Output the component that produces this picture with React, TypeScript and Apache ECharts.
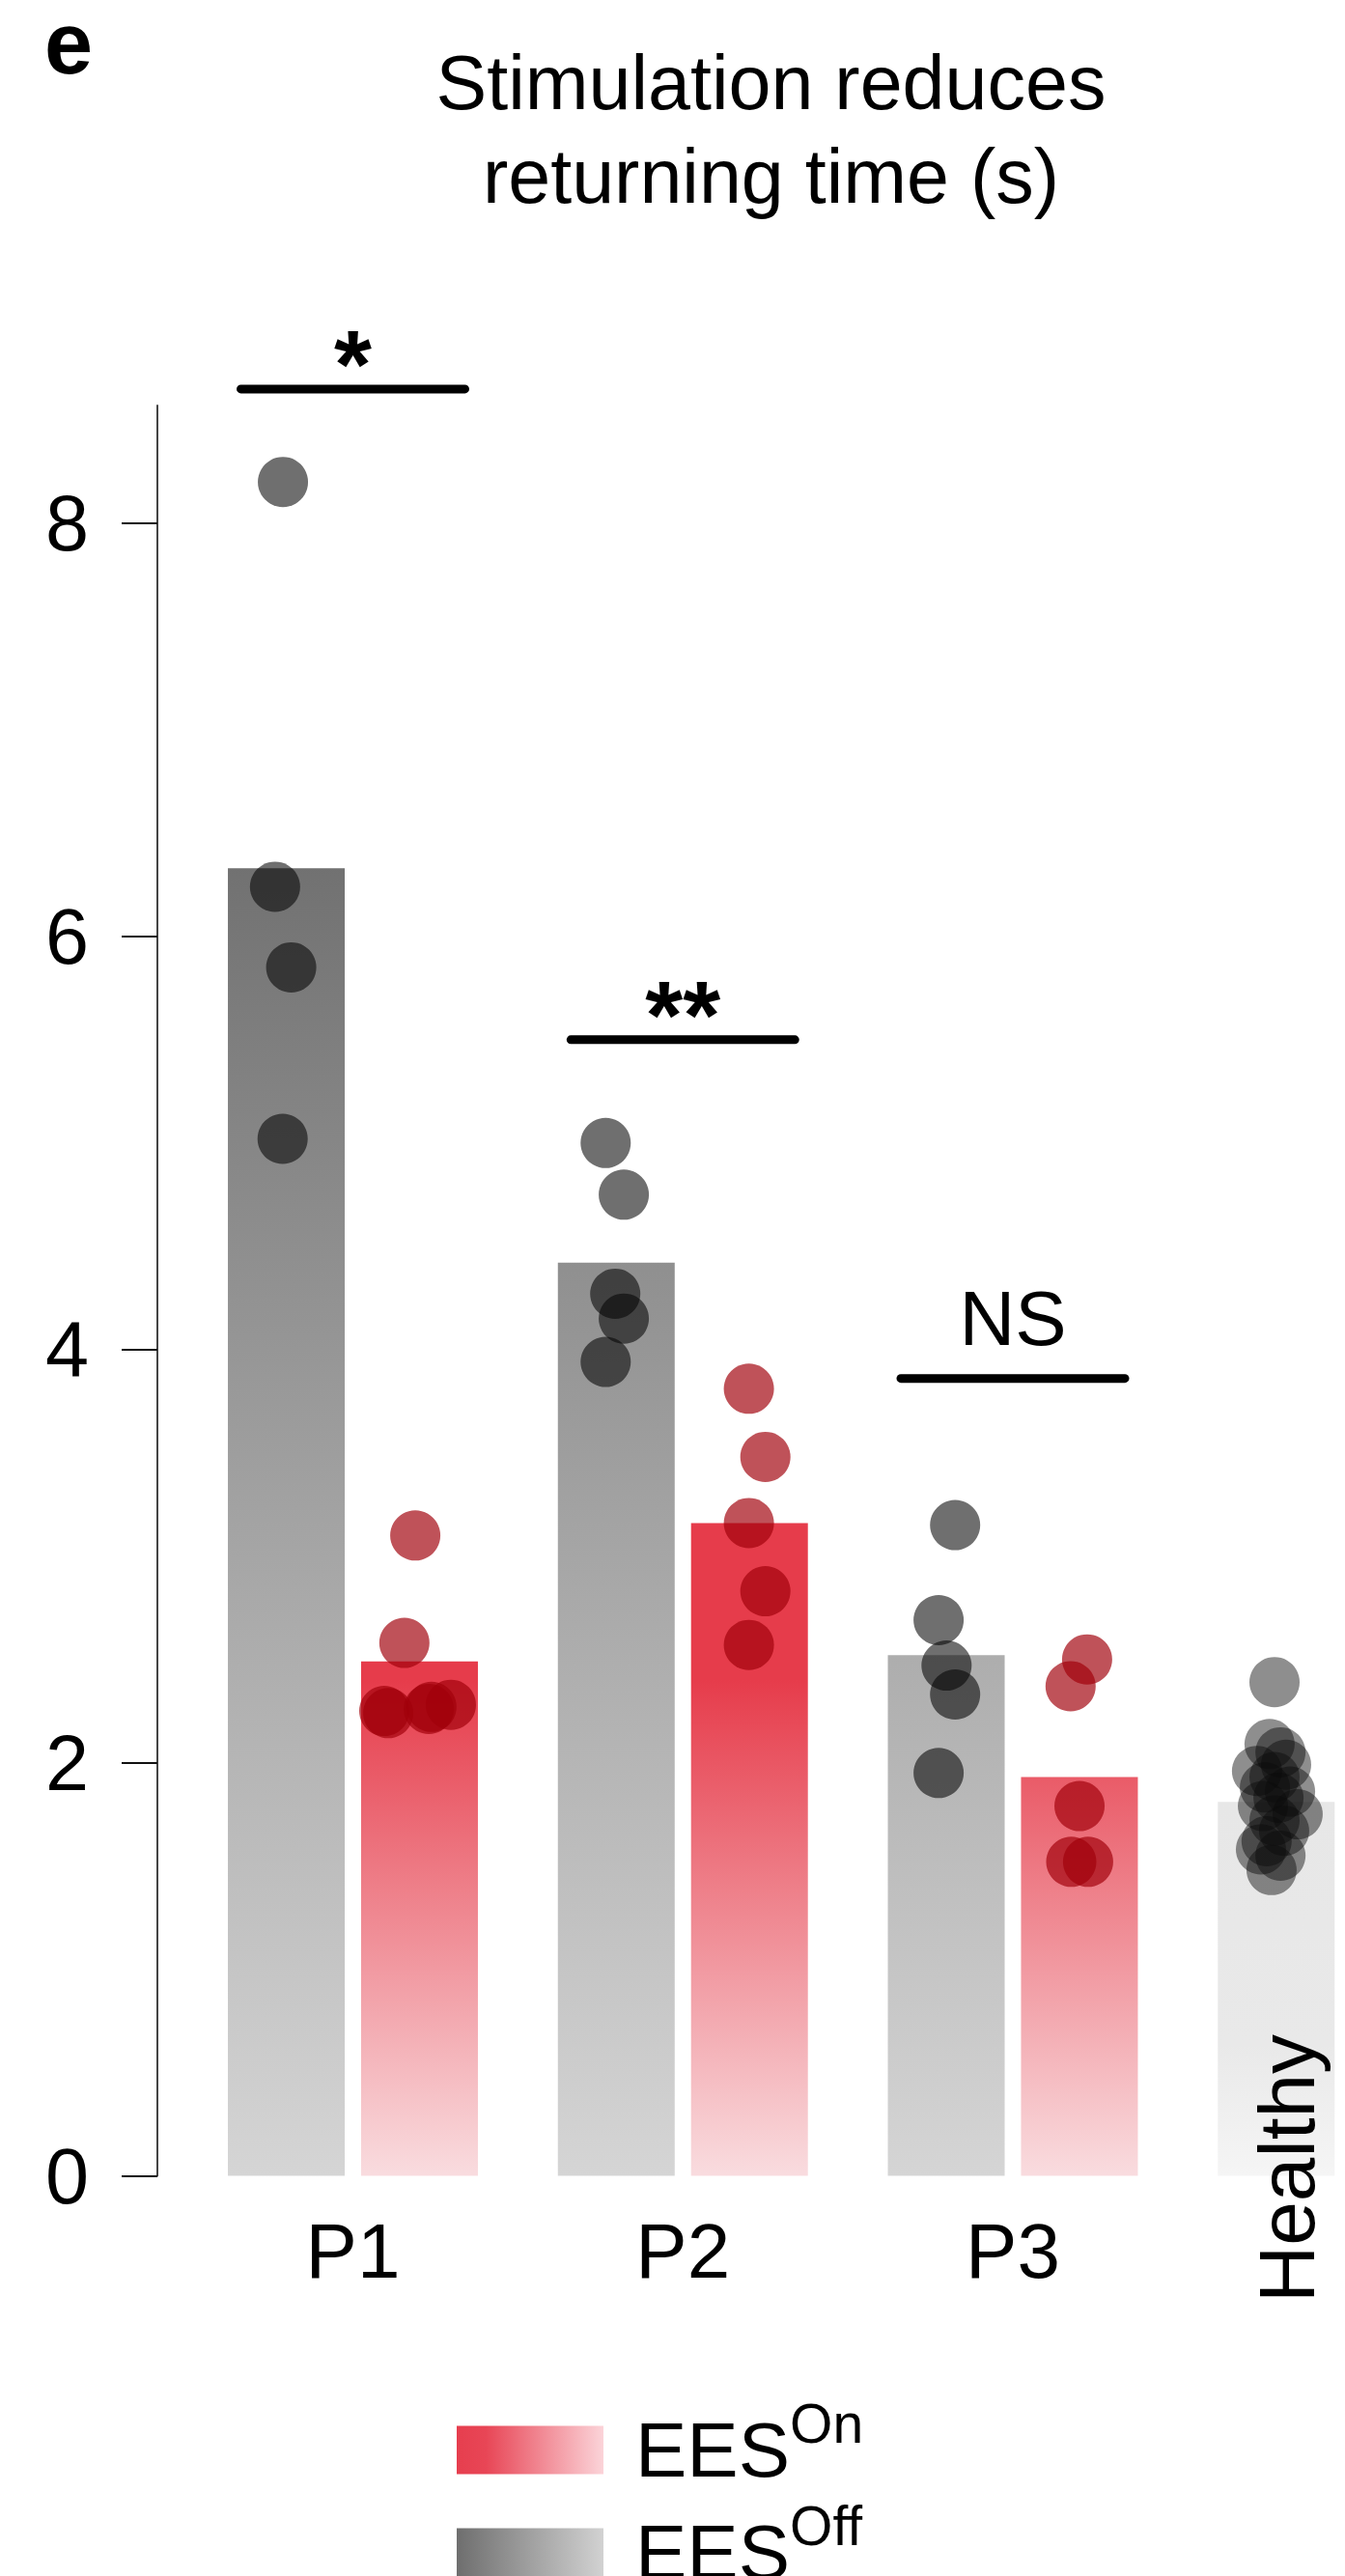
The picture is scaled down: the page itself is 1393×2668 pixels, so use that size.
import React, { useEffect, useRef } from 'react';
import * as echarts from 'echarts';

// ---------- data ----------
const categories = ['P1', 'P2', 'P3', 'Healthy'];
const offBarValues = [6.33, 4.42, 2.52, 1.81];
const onBarValues: (number | null)[] = [2.49, 3.16, 1.93, null];
const yTickValues = [0, 2, 4, 6, 8];
const yMax = 8.57;

const p1OffValues = [8.2, 6.24, 5.85, 5.02];
const p1OffJitter = [-0.212, -0.236, -0.187, -0.213];
const p1OnValues = [3.1, 2.58, 2.25, 2.24, 2.27, 2.26, 2.28];
const p1OnJitter = [0.189, 0.156, 0.095, 0.107, 0.238, 0.23, 0.297];

const p2OffValues = [5.0, 4.75, 4.27, 4.15, 3.94];
const p2OffJitter = [-0.234, -0.179, -0.205, -0.179, -0.234];
const p2OnValues = [3.81, 3.48, 3.16, 2.83, 2.57];
const p2OnJitter = [0.2, 0.25, 0.2, 0.25, 0.2];

const p3OffValues = [3.15, 2.69, 2.47, 2.33, 1.95];
const p3OffJitter = [-0.175, -0.225, -0.201, -0.175, -0.225];
const p3OnValues = [2.5, 2.37, 1.79, 1.52, 1.52];
const p3OnJitter = [0.225, 0.175, 0.202, 0.177, 0.228];

const healthyValues = [2.39, 2.09, 2.05, 1.96, 1.99, 1.93, 1.88, 1.86, 1.83, 1.75, 1.79, 1.72, 1.67, 1.62, 1.58, 1.55, 1.48];
const healthyJitter = [-0.207, -0.222, -0.189, -0.26, -0.172, -0.207, -0.236, -0.16, -0.195, -0.137, -0.242, -0.207, -0.178, -0.231, -0.248, -0.189, -0.216];

const sigGroups = [0, 1, 2];
const sigLevels = [8.65, 5.5, 3.86];
const sigLabels = ['*', '**', 'NS'];

const legendNames = ['EES On', 'EES Off'];
const titleText = 'Stimulation reduces\nreturning time (s)';
const panelLetter = 'e';

// ---------- layout ----------
const W = 1393;
const H = 2668;
const CW = 1562; // chart canvas wider than the page; the page crops it
const CH = 2900;
const FONT = '"Liberation Sans", Arial, Helvetica, sans-serif';
const gridTop = 420;
const gridBottomPx = 2253.5;
const gridLeft = 194.625;
const band = 341.75;
const gridRight = CW - gridLeft - band * categories.length;
const axisX = 163;

function pts(cat: number, vals: number[], jit: number[]) {
  return vals.map((v, i) => [cat + jit[i], v]);
}

export default function App() {
  const ref = useRef<HTMLDivElement>(null);

  useEffect(() => {
    if (!ref.current) return;
    const chart = echarts.init(ref.current, undefined, { renderer: 'svg' });

    const grayGrad = new echarts.graphic.LinearGradient(
      0, gridTop, 0, gridBottomPx,
      [
        { offset: 0, color: '#4e4e4e' },
        { offset: 1, color: '#d5d5d5' },
      ],
      true
    );
    const redGrad = new echarts.graphic.LinearGradient(
      0, gridTop, 0, gridBottomPx,
      [
        { offset: 0, color: '#e63c4b' },
        { offset: 0.72, color: '#e63c4b' },
        { offset: 1, color: '#f9dcdf' },
      ],
      true
    );
    const healthyGrad = new echarts.graphic.LinearGradient(0, 0, 0, 1, [
      { offset: 0, color: '#e7e7e7' },
      { offset: 0.65, color: '#e9e9e9' },
      { offset: 1, color: '#f5f5f5' },
    ]);
    const onLegendGrad = new echarts.graphic.LinearGradient(0, 0, 1, 0, [
      { offset: 0, color: '#e63e4e' },
      { offset: 0.2, color: '#e84656' },
      { offset: 1, color: '#fbd4d9' },
    ]);
    const offLegendGrad = new echarts.graphic.LinearGradient(0, 0, 1, 0, [
      { offset: 0, color: '#6e6e6e' },
      { offset: 1, color: '#d2d2d2' },
    ]);

    const offData: any[] = offBarValues.map((v, i) =>
      categories[i] === 'Healthy'
        ? {
            value: v,
            itemStyle: { color: healthyGrad },
            label: {
              show: true,
              formatter: 'Healthy',
              position: ['50%', '100%'],
              rotate: 90,
              align: 'center',
              verticalAlign: 'middle',
              offset: [7.5, 10.5],
              fontSize: 82,
              fontFamily: FONT,
              color: '#000',
            },
          }
        : v
    );

    const offPoints = [
      ...pts(0, p1OffValues, p1OffJitter),
      ...pts(1, p2OffValues, p2OffJitter),
      ...pts(2, p3OffValues, p3OffJitter),
    ];
    const onPoints = [
      ...pts(0, p1OnValues, p1OnJitter),
      ...pts(1, p2OnValues, p2OnJitter),
      ...pts(2, p3OnValues, p3OnJitter),
    ];
    const healthyPoints = pts(3, healthyValues, healthyJitter);

    const option: any = {
      animation: false,
      backgroundColor: '#fff',
      textStyle: { fontFamily: FONT },
      grid: {
        left: gridLeft,
        right: gridRight,
        top: gridTop,
        bottom: CH - gridBottomPx,
        containLabel: false,
        outerBoundsMode: 'none',
      },
      xAxis: [
        {
          type: 'category',
          data: categories,
          axisLine: { show: false },
          axisTick: { show: false },
          splitLine: { show: false },
          axisLabel: {
            fontSize: 80,
            fontFamily: FONT,
            color: '#000',
            margin: 38,
            formatter: (v: string) => (v === 'Healthy' ? '' : v),
          },
        },
        {
          type: 'value',
          min: -0.5,
          max: categories.length - 0.5,
          show: false,
        },
      ],
      yAxis: {
        type: 'value',
        min: 0,
        max: yMax,
        interval: 2,
        offset: gridLeft - axisX,
        splitLine: { show: false },
        axisLine: { show: true, onZero: false, lineStyle: { color: '#444', width: 2 } },
        axisTick: {
          show: true,
          length: 37,
          lineStyle: { color: '#111', width: 2 },
          customValues: yTickValues,
        },
        axisLabel: {
          fontSize: 81,
          fontFamily: FONT,
          color: '#000',
          margin: 71,
          customValues: yTickValues,
        },
      },
      legend: {
        orient: 'vertical',
        left: 468,
        top: 2476.5,
        itemWidth: 152,
        itemHeight: 50,
        itemGap: 10,
        icon: 'rect',
        selectedMode: false,
        data: [
          { name: legendNames[0], itemStyle: { color: onLegendGrad, borderWidth: 0 } },
          { name: legendNames[1], itemStyle: { color: offLegendGrad, borderWidth: 0 } },
        ],
        formatter: (n: string) => `{a|${n.split(' ')[0]}}{b|${n.split(' ')[1]}}`,
        textStyle: {
          color: '#000',
          fontFamily: FONT,
          rich: {
            a: { fontSize: 80, lineHeight: 112, fontFamily: FONT, color: '#000', padding: [0, 0, 0, 28] },
            b: { fontSize: 57, lineHeight: 57, verticalAlign: 'top', fontFamily: FONT, color: '#000' },
          },
        },
      },
      graphic: [
        {
          type: 'text',
          x: 46,
          y: 45,
          silent: true,
          style: {
            text: panelLetter,
            font: `bold 90px ${FONT}`,
            lineHeight: 80,
            fill: '#000',
            align: 'left',
            verticalAlign: 'middle',
            textAlign: 'left',
            textVerticalAlign: 'middle',
          },
        },
        {
          type: 'text',
          x: 798.5,
          y: 37,
          silent: true,
          style: {
            text: titleText,
            font: `79px ${FONT}`,
            lineHeight: 97,
            fill: '#000',
            align: 'center',
            verticalAlign: 'top',
            textAlign: 'center',
            textVerticalAlign: 'top',
          },
        },
      ],
      series: [
        {
          name: legendNames[1],
          type: 'bar',
          xAxisIndex: 0,
          yAxisIndex: 0,
          data: offData,
          barWidth: 121,
          barGap: '14%',
          itemStyle: { color: grayGrad },
          emphasis: { disabled: true },
          silent: true,
          z: 2,
        },
        {
          name: legendNames[0],
          type: 'bar',
          xAxisIndex: 0,
          yAxisIndex: 0,
          data: onBarValues.map((v) => (v === null ? '-' : v)),
          barWidth: 121,
          barGap: '14%',
          itemStyle: { color: redGrad },
          emphasis: { disabled: true },
          silent: true,
          z: 2,
        },
        {
          name: 'offPoints',
          type: 'scatter',
          xAxisIndex: 1,
          yAxisIndex: 0,
          data: offPoints,
          symbol: 'circle',
          symbolSize: 52,
          itemStyle: { color: 'rgba(6,6,6,0.72)' },
          emphasis: { disabled: true },
          silent: true,
          z: 5,
        },
        {
          name: 'onPoints',
          type: 'scatter',
          xAxisIndex: 1,
          yAxisIndex: 0,
          data: onPoints,
          symbol: 'circle',
          symbolSize: 52,
          itemStyle: { color: 'rgba(160,0,10,0.85)' },
          emphasis: { disabled: true },
          silent: true,
          z: 5,
        },
        {
          name: 'healthyPoints',
          type: 'scatter',
          xAxisIndex: 1,
          yAxisIndex: 0,
          data: healthyPoints,
          symbol: 'circle',
          symbolSize: 52,
          itemStyle: { color: 'rgba(10,10,10,0.58)' },
          emphasis: { disabled: true },
          silent: true,
          z: 5,
        },
        {
          name: 'significance',
          type: 'custom',
          xAxisIndex: 1,
          yAxisIndex: 0,
          silent: true,
          z: 6,
          data: sigGroups.map((g, i) => [g, sigLevels[i], i]),
          encode: { x: 0, y: 1 },
          renderItem: (_params: any, api: any) => {
            const c = api.coord([api.value(0), api.value(1)]);
            const half = api.size([1, 0])[0] * 0.3394;
            const lab = sigLabels[api.value(2)];
            const isStar = lab.indexOf('*') >= 0;
            return {
              type: 'group',
              children: [
                {
                  type: 'line',
                  shape: { x1: c[0] - half, y1: c[1], x2: c[0] + half, y2: c[1] },
                  style: { stroke: '#000', lineWidth: 9, lineCap: 'round' },
                },
                {
                  type: 'text',
                  x: c[0],
                  y: c[1] - (isStar ? 26 : 62),
                  style: {
                    text: lab,
                    font: isStar ? `bold 100px ${FONT}` : `80px ${FONT}`,
                    fill: '#000',
                    align: 'center',
                    verticalAlign: 'middle',
                    textAlign: 'center',
                    textVerticalAlign: 'middle',
                  },
                },
              ],
            };
          },
        },
      ],
    };

    chart.setOption(option);
    return () => chart.dispose();
  }, []);

  return (
    <div
      style={{
        position: 'absolute',
        left: 0,
        top: 0,
        width: W,
        height: H,
        overflow: 'hidden',
        background: '#fff',
      }}
    >
      <div ref={ref} style={{ width: CW, height: CH }} />
    </div>
  );
}
